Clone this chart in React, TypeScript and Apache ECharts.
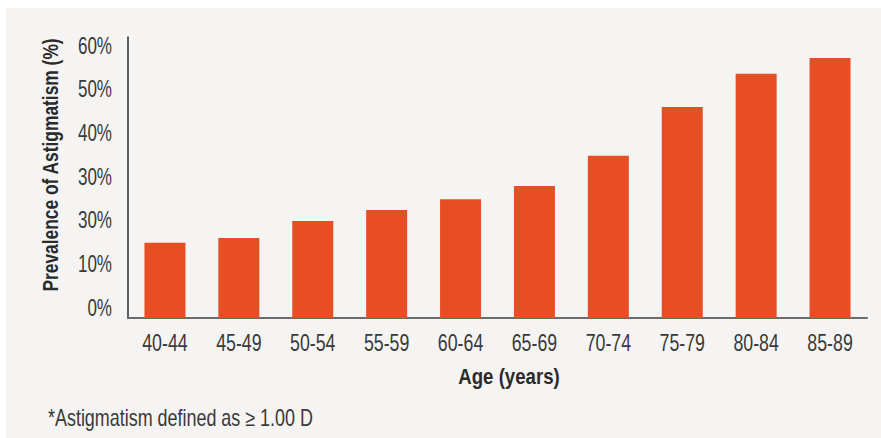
import React, { useEffect, useRef } from "react";
import * as echarts from "echarts";

const categories = ["40-44", "45-49", "50-54", "55-59", "60-64", "65-69", "70-74", "75-79", "80-84", "85-89"];
const prevalence = [14.7, 15.8, 19.7, 22.2, 24.7, 27.7, 34.6, 45.8, 53.4, 57.0];
const yTickValues = [0, 10, 20, 30, 40, 50, 60];
const yTickLabels = ["0%", "10%", "30%", "30%", "40%", "50%", "60%"];
const yTitle = "Prevalence of Astigmatism (%)";
const xTitle = "Age (years)";
const footnote = "*Astigmatism defined as \u2265 1.00 D";

const FONT = "'Liberation Sans', Arial, sans-serif";
const BG = "#f5f4f2";
const BAR = "#e84e24";
const LABEL = "#3a3a3a";
const TITLE = "#2b2b2b";

export default function App() {
  const ref = useRef<HTMLDivElement>(null);
  useEffect(() => {
    if (!ref.current) return;
    const chart = echarts.init(ref.current, undefined, { renderer: "svg" });
    chart.setOption({
      animation: false,
      backgroundColor: "#ffffff",
      grid: { left: 128, right: 14, top: 37, bottom: 120, containLabel: false },
      xAxis: {
        type: "category",
        data: categories,
        axisLine: { onZero: false, lineStyle: { color: "#6b6b6b", width: 2 } },
        axisTick: { show: false },
        axisLabel: { show: false },
      },
      yAxis: {
        type: "value",
        min: -2.5,
        max: 61.8,
        minInterval: 10,
        maxInterval: 10,
        startValue: -2.5,
        splitLine: { show: false },
        axisTick: { show: false },
        axisLine: { show: true, lineStyle: { color: "#2b2b2b", width: 1.5 } },
        axisLabel: { show: false },
      },
      series: [
        {
          type: "bar",
          data: prevalence,
          barWidth: 41,
          itemStyle: { color: BAR },
          z: 1,
        },
      ],
    });

    const graphics: any[] = [
      { type: "rect", z: -10, shape: { x: 6, y: 8, width: 875, height: 430 }, style: { fill: BG } },
      {
        type: "text", x: 509, y: 376, scaleX: 0.81,
        style: { text: xTitle, font: `bold 23px ${FONT}`, fill: TITLE, align: "center", verticalAlign: "middle" },
      },
      {
        type: "text", x: 50, y: 165, rotation: Math.PI / 2, scaleX: 0.79,
        style: { text: yTitle, font: `bold 22px ${FONT}`, fill: TITLE, align: "center", verticalAlign: "middle" },
      },
      {
        type: "text", x: 48, y: 418, scaleX: 0.78,
        style: { text: footnote, font: `23px ${FONT}`, fill: LABEL, align: "left", verticalAlign: "middle" },
      },
    ];
    categories.forEach((c) => {
      const px = chart.convertToPixel({ xAxisIndex: 0 }, c) as number;
      graphics.push({
        type: "text", x: px, y: 342, scaleX: 0.74,
        style: { text: c, font: `24px ${FONT}`, fill: LABEL, align: "center", verticalAlign: "middle" },
      });
    });
    yTickValues.forEach((v, i) => {
      const py = chart.convertToPixel({ yAxisIndex: 0 }, v) as number;
      graphics.push({
        type: "text", x: 112, y: py, scaleX: 0.71,
        style: { text: yTickLabels[i], font: `24px ${FONT}`, fill: LABEL, align: "right", verticalAlign: "middle" },
      });
    });
    chart.setOption({ graphic: graphics });
    return () => chart.dispose();
  }, []);
  return (
    <div style={{ position: "absolute", left: 0, top: 0, width: 881, height: 438 }}>
      <div ref={ref} style={{ width: 881, height: 438 }} />
    </div>
  );
}
